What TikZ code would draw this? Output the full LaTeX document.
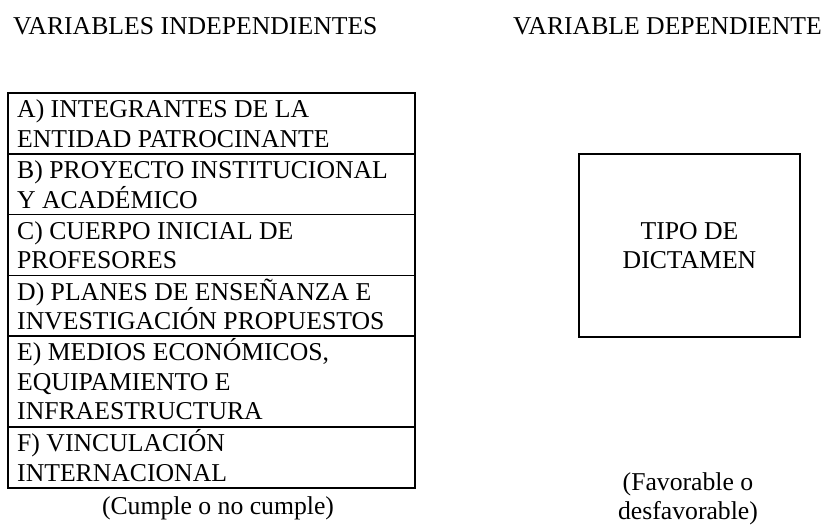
\documentclass[tikz,border=0pt]{standalone}
\usepackage{fontspec}
\setmainfont{Liberation Serif}
\usetikzlibrary{calc}
\newcommand\topstrut{\rule{0pt}{25bp}}
\tikzset{
  lbl/.style={font=\fontsize{25.7bp}{29.5bp}\selectfont, inner sep=0pt},
  rowbox/.style={draw, line width=1.8bp, minimum width=407bp, anchor=north west, inner sep=0pt, outer sep=0pt},
  rowtxt/.style={lbl, anchor=north west, align=left},
  outbox/.style={draw, line width=1.8bp, anchor=north west, inner sep=0pt, outer sep=0pt}
}
\begin{document}
\begin{tikzpicture}[x=1bp,y=-1bp]
\useasboundingbox (0,0) rectangle (827,526);
% titles
\node[lbl, anchor=base west] (t1) at (13,34.5) {VARIABLES INDEPENDIENTES};
\node[lbl, anchor=base west] (t2) at (513,34.5) {VARIABLE DEPENDIENTE};
% left table rows
\node[rowbox, minimum height=61bp] (A) at (8,93) {};
\node[rowbox, minimum height=60.5bp] (B) at (A.south west) {};
\node[rowbox, minimum height=61bp] (C) at (B.south west) {};
\node[rowbox, minimum height=60.5bp] (D) at (C.south west) {};
\node[rowbox, minimum height=91bp] (E) at (D.south west) {};
\node[rowbox, minimum height=61bp] (F) at (E.south west) {};
\node[rowtxt] (tA) at ($(A.north west)+(9,-0.5)$) {\topstrut A) INTEGRANTES DE LA\\ENTIDAD PATROCINANTE};
\node[rowtxt] (tB) at ($(B.north west)+(9,-0.5)$) {\topstrut B) PROYECTO INSTITUCIONAL\\Y ACADÉMICO};
\node[rowtxt] (tC) at ($(C.north west)+(9,-0.5)$) {\topstrut C) CUERPO INICIAL DE\\PROFESORES};
\node[rowtxt] (tD) at ($(D.north west)+(9,-0.5)$) {\topstrut D) PLANES DE ENSEÑANZA E\\INVESTIGACIÓN PROPUESTOS};
\node[rowtxt] (tE) at ($(E.north west)+(9,-0.5)$) {\topstrut E) MEDIOS ECONÓMICOS,\\EQUIPAMIENTO E\\INFRAESTRUCTURA};
\node[rowtxt] (tF) at ($(F.north west)+(9,-0.5)$) {\topstrut F) VINCULACIÓN\\INTERNACIONAL};
\node[lbl, anchor=base] (cumple) at (218,514) {(Cumple o no cumple)};
% right box
\node[outbox, minimum width=221bp, minimum height=183bp] (T) at (579,154) {};
\node[lbl, align=center] (tT) at (T.center) {TIPO DE\\DICTAMEN};
\node[lbl, align=center, anchor=north] (fav) at (688,465) {\topstrut(Favorable o\\desfavorable)};
\end{tikzpicture}
\end{document}
